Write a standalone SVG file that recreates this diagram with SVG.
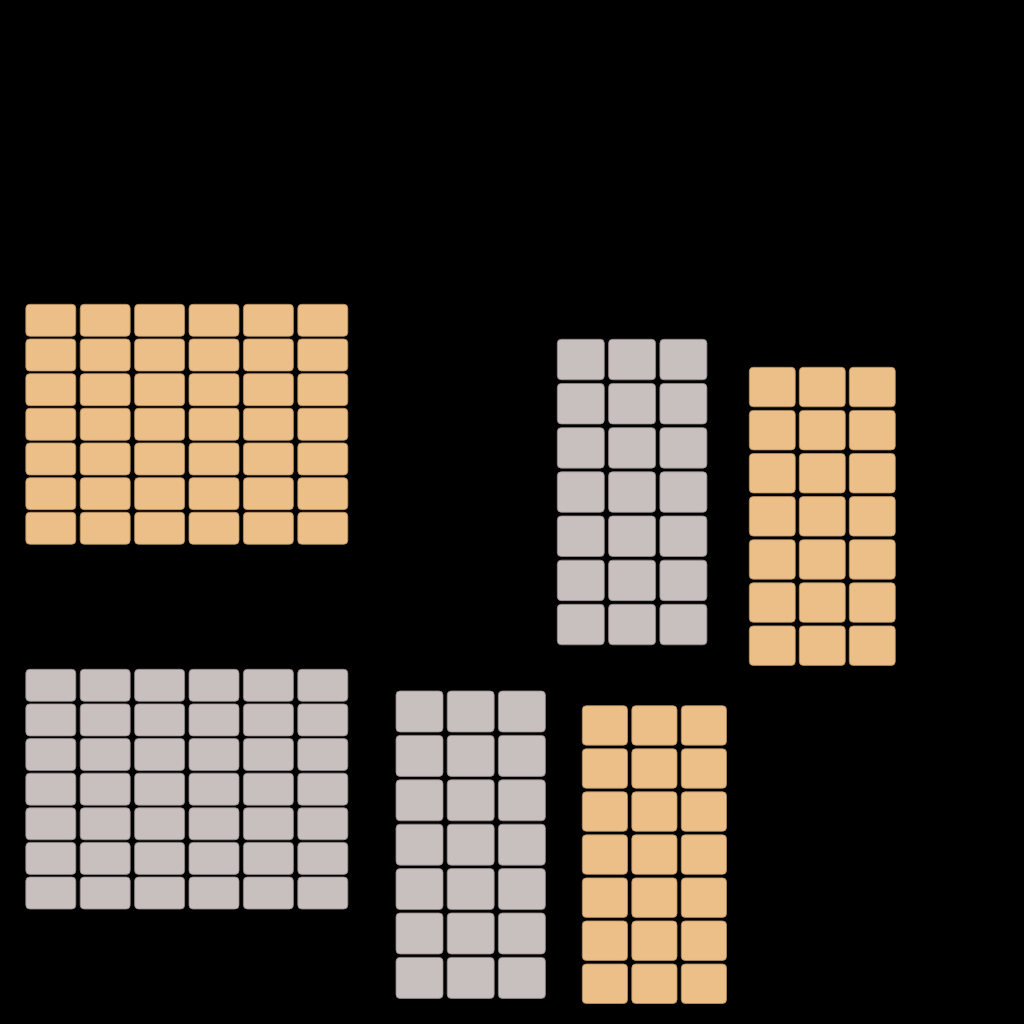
<svg xmlns="http://www.w3.org/2000/svg" xmlns:xlink="http://www.w3.org/1999/xlink" width="1024" height="1024" viewBox="0 0 1024 1024">
<style>
.o{fill:#ECBF88;stroke:#B8905F;stroke-width:0.8}
.g{fill:#C8BFBF;stroke:#978C8C;stroke-width:0.8}
</style>
<defs>
<g id="r1"><rect x="25.8" y="304.3" width="50" height="32" rx="4"/><rect x="80.2" y="304.3" width="50" height="32" rx="4"/><rect x="134.6" y="304.3" width="50" height="32" rx="4"/><rect x="189" y="304.3" width="50" height="32" rx="4"/><rect x="243.4" y="304.3" width="50" height="32" rx="4"/><rect x="297.8" y="304.3" width="50" height="32" rx="4"/></g>
<g id="r2"><rect x="557.3" y="339.3" width="47" height="40.5" rx="4"/><rect x="608.6" y="339.3" width="47" height="40.5" rx="4"/><rect x="659.9" y="339.3" width="47" height="40.5" rx="4"/></g>
<g id="r4"><rect x="749.3" y="367.3" width="46" height="39.5" rx="4"/><rect x="799.3" y="367.3" width="46" height="39.5" rx="4"/><rect x="849.3" y="367.3" width="46" height="39.5" rx="4"/></g>
<g id="r5"><rect x="396" y="691" width="47" height="41" rx="4"/><rect x="447.2" y="691" width="47" height="41" rx="4"/><rect x="498.4" y="691" width="47" height="41" rx="4"/></g>
<g id="r6"><rect x="582.3" y="705.7" width="45.2" height="39.5" rx="4"/><rect x="631.8" y="705.7" width="45.2" height="39.5" rx="4"/><rect x="681.3" y="705.7" width="45.2" height="39.5" rx="4"/></g>
</defs>
<rect x="0" y="0" width="1024" height="1024" fill="#000"/>
<g id="grid-top-left" class="o">
<use xlink:href="#r1"/>
<use xlink:href="#r1" transform="translate(0,34.67)"/>
<use xlink:href="#r1" transform="translate(0,69.33)"/>
<use xlink:href="#r1" transform="translate(0,104)"/>
<use xlink:href="#r1" transform="translate(0,138.67)"/>
<use xlink:href="#r1" transform="translate(0,173.33)"/>
<use xlink:href="#r1" transform="translate(0,208)"/>
</g>
<g id="grid-bottom-left" class="g">
<use xlink:href="#r1" transform="translate(0,365)"/>
<use xlink:href="#r1" transform="translate(0,399.62)"/>
<use xlink:href="#r1" transform="translate(0,434.24)"/>
<use xlink:href="#r1" transform="translate(0,468.86)"/>
<use xlink:href="#r1" transform="translate(0,503.48)"/>
<use xlink:href="#r1" transform="translate(0,538.1)"/>
<use xlink:href="#r1" transform="translate(0,572.72)"/>
</g>
<g id="grid-top-mid" class="g">
<use xlink:href="#r2"/>
<use xlink:href="#r2" transform="translate(0,44.17)"/>
<use xlink:href="#r2" transform="translate(0,88.33)"/>
<use xlink:href="#r2" transform="translate(0,132.5)"/>
<use xlink:href="#r2" transform="translate(0,176.67)"/>
<use xlink:href="#r2" transform="translate(0,220.83)"/>
<use xlink:href="#r2" transform="translate(0,265)"/>
</g>
<g id="grid-top-right" class="o">
<use xlink:href="#r4"/>
<use xlink:href="#r4" transform="translate(0,43.1)"/>
<use xlink:href="#r4" transform="translate(0,86.2)"/>
<use xlink:href="#r4" transform="translate(0,129.3)"/>
<use xlink:href="#r4" transform="translate(0,172.4)"/>
<use xlink:href="#r4" transform="translate(0,215.5)"/>
<use xlink:href="#r4" transform="translate(0,258.6)"/>
</g>
<g id="grid-bottom-mid" class="g">
<use xlink:href="#r5"/>
<use xlink:href="#r5" transform="translate(0,44.4)"/>
<use xlink:href="#r5" transform="translate(0,88.8)"/>
<use xlink:href="#r5" transform="translate(0,133.2)"/>
<use xlink:href="#r5" transform="translate(0,177.6)"/>
<use xlink:href="#r5" transform="translate(0,222)"/>
<use xlink:href="#r5" transform="translate(0,266.4)"/>
</g>
<g id="grid-bottom-right" class="o">
<use xlink:href="#r6"/>
<use xlink:href="#r6" transform="translate(0,43.05)"/>
<use xlink:href="#r6" transform="translate(0,86.1)"/>
<use xlink:href="#r6" transform="translate(0,129.15)"/>
<use xlink:href="#r6" transform="translate(0,172.2)"/>
<use xlink:href="#r6" transform="translate(0,215.25)"/>
<use xlink:href="#r6" transform="translate(0,258.3)"/>
</g>
</svg>
